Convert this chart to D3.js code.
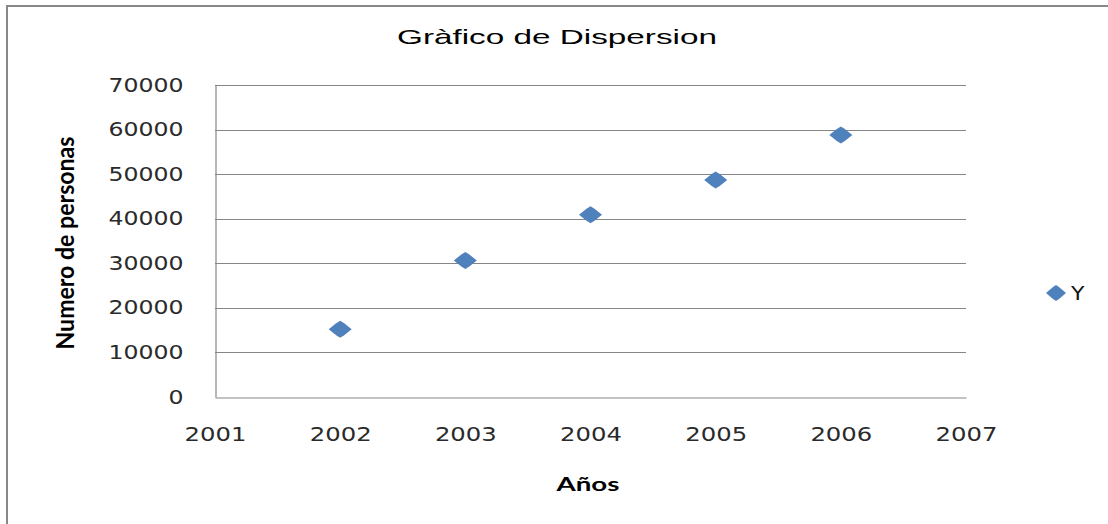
<!DOCTYPE html>
<html>
<head>
<meta charset="utf-8">
<script src="https://cdn.jsdelivr.net/npm/d3@7.9.0/dist/d3.min.js"></script>
<style>
  html, body { margin: 0; padding: 0; background: #fff; }
  svg { display: block; }
</style>
</head>
<body>
<svg id="chart" width="1108" height="524"></svg>
<script>
const years = [2002, 2003, 2004, 2005, 2006];
const personas = [15200, 30600, 40900, 48700, 58800];
const xTicks = [2001, 2002, 2003, 2004, 2005, 2006, 2007];
const yTicks = [0, 10000, 20000, 30000, 40000, 50000, 60000, 70000];
const seriesName = 'Y';

const svg = d3.select('#chart');
const blue = '#4f81bd';
const gridColor = '#868686';

const x = d3.scaleLinear().domain([2001, 2007]).range([215, 966]);
const y = d3.scaleLinear().domain([0, 70000]).range([397, 85]);

// stretch text horizontally (the original is a widened screenshot)
function stretch(sel, k) {
  sel.each(function () {
    const w = this.getComputedTextLength();
    d3.select(this).attr('textLength', w * k).attr('lengthAdjust', 'spacingAndGlyphs');
  });
}

// outer chart border, runs off right/bottom edge
svg.append('rect')
  .attr('x', 7).attr('y', 6)
  .attr('width', 1300).attr('height', 700)
  .attr('fill', '#fff')
  .attr('stroke', '#888').attr('stroke-width', 2);

// gridlines
svg.append('g')
  .selectAll('line')
  .data(yTicks.filter((d) => d > 0))
  .join('line')
  .attr('x1', x(2001)).attr('x2', x(2007))
  .attr('y1', (d) => Math.round(y(d)) + 0.5)
  .attr('y2', (d) => Math.round(y(d)) + 0.5)
  .attr('stroke', gridColor).attr('stroke-width', 1.2);

// axes (no tick marks)
const yAxis = d3.axisLeft(y).tickValues(yTicks).tickSize(0).tickPadding(32).tickFormat(d3.format('d'));
const xAxis = d3.axisBottom(x).tickValues(xTicks).tickSize(0).tickPadding(30).tickFormat(d3.format('d'));

const gy = svg.append('g').attr('transform', `translate(${x(2001) + 0.5},0)`).call(yAxis);
const gx = svg.append('g').attr('transform', `translate(0,${Math.round(y(0)) + 0.5})`).call(xAxis);

[gy, gx].forEach((g) => {
  g.select('.domain').attr('stroke', gridColor).attr('stroke-width', 1.2);
  g.selectAll('text')
    .attr('font-family', '"DejaVu Sans", sans-serif')
    .attr('font-size', 19)
    .attr('fill', '#2a2a2a');
});
gy.selectAll('text').attr('dy', '0.32em').attr('dx', 0);
gy.selectAll('.tick text').call(stretch, 1.24);
gx.selectAll('.tick text').call(stretch, 1.28);

// markers
const diamond = 'M-11.5,0 L-4,-6 L0,-8.5 L4,-6 L11.5,0 L4,6 L0,8.5 L-4,6 Z';
svg.append('g')
  .selectAll('path')
  .data(years.map((yr, i) => ({ yr, v: personas[i] })))
  .join('path')
  .attr('d', diamond)
  .attr('transform', (d) => `translate(${x(d.yr)},${y(d.v)})`)
  .attr('fill', blue);

// title
svg.append('text')
  .attr('x', 557).attr('y', 44)
  .attr('text-anchor', 'middle')
  .attr('font-family', '"Liberation Sans", Arial, sans-serif')
  .attr('font-size', 21)
  .attr('fill', '#000')
  .attr('textLength', 320).attr('lengthAdjust', 'spacingAndGlyphs')
  .text('Gràfico de Dispersion');

// axis titles
svg.append('text')
  .attr('x', 588).attr('y', 491)
  .attr('text-anchor', 'middle')
  .attr('font-family', 'Lato, sans-serif')
  .attr('font-weight', 'bold')
  .attr('font-size', 19)
  .attr('fill', '#000')
  .attr('textLength', 63).attr('lengthAdjust', 'spacingAndGlyphs')
  .text('Años');

svg.append('text')
  .attr('transform', 'translate(74,243) rotate(-90) scale(1,1.35)')
  .attr('text-anchor', 'middle')
  .attr('font-family', 'Lato, sans-serif')
  .attr('font-weight', 'bold')
  .attr('font-size', 18)
  .attr('fill', '#000')
  .attr('textLength', 213).attr('lengthAdjust', 'spacingAndGlyphs')
  .text('Numero de personas');

// legend
const legend = svg.append('g').attr('transform', 'translate(1056,293)');
legend.append('path').attr('d', 'M-10,0 L-3,-6 L0,-8 L3,-6 L10,0 L3,6 L0,8 L-3,6 Z').attr('fill', blue);
legend.append('text')
  .attr('x', 15).attr('y', 7)
  .attr('font-family', '"DejaVu Sans", sans-serif')
  .attr('font-size', 20)
  .attr('fill', '#111')
  .text(seriesName)
  .call(stretch, 1.1);
</script>
</body>
</html>
